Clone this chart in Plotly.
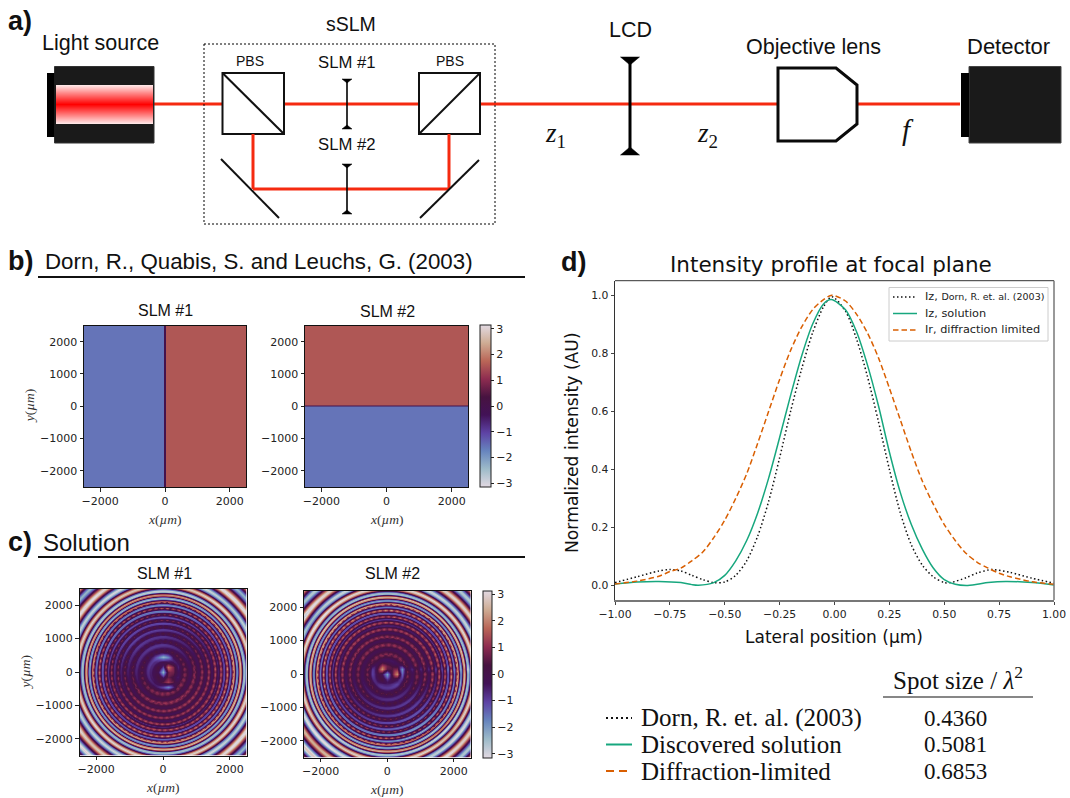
import numpy as np
import plotly.graph_objects as go

W, H = 1070, 798
PI = 3.141592653589793

# ---------- values ----------
x_dorn = [-1.0,-0.9,-0.8,-0.75,-0.7,-0.65,-0.6,-0.55,-0.5,-0.45,-0.4,-0.35,-0.3,-0.25,-0.2,-0.15,-0.1,-0.05,-0.012,0.05,0.1,0.15,0.2,0.25,0.3,0.35,0.4,0.45,0.5,0.53,0.6,0.65,0.7,0.72,0.8,0.9,1.0]
y_dorn = [0.01,0.03,0.05,0.055,0.05,0.035,0.02,0.01,0.012,0.035,0.085,0.17,0.29,0.44,0.60,0.745,0.87,0.96,0.995,0.945,0.85,0.72,0.565,0.40,0.25,0.14,0.07,0.03,0.01,0.01,0.027,0.043,0.053,0.055,0.045,0.025,0.008]
x_sol = [-1.0,-0.9,-0.8,-0.7,-0.65,-0.62,-0.55,-0.5,-0.45,-0.4,-0.35,-0.3,-0.25,-0.2,-0.15,-0.1,-0.05,-0.015,0.05,0.1,0.15,0.2,0.25,0.3,0.35,0.4,0.45,0.5,0.55,0.6,0.65,0.7,0.78,0.9,1.0]
y_sol = [0.005,0.012,0.014,0.01,0.003,0.001,0.01,0.035,0.085,0.155,0.25,0.37,0.51,0.655,0.79,0.90,0.97,0.985,0.95,0.875,0.76,0.62,0.46,0.32,0.21,0.125,0.06,0.02,0.004,0.0,0.004,0.01,0.014,0.01,0.002]
x_lim = [-1.0,-0.9,-0.8,-0.75,-0.7,-0.65,-0.6,-0.55,-0.5,-0.45,-0.4,-0.35,-0.3,-0.25,-0.2,-0.15,-0.1,-0.05,-0.012,0.05,0.1,0.15,0.2,0.25,0.3,0.35,0.4,0.45,0.5,0.55,0.6,0.65,0.7,0.75,0.8,0.9,1.0]
y_lim = [0.005,0.015,0.032,0.048,0.06,0.085,0.115,0.165,0.225,0.30,0.385,0.49,0.60,0.71,0.81,0.89,0.95,0.985,1.0,0.98,0.935,0.87,0.785,0.68,0.57,0.46,0.36,0.28,0.21,0.155,0.11,0.08,0.06,0.042,0.03,0.013,0.004]

legend_names = ["Iz, <span style='font-size:9.5px'>Dorn, R. et. al. (2003)</span>", "Iz, solution", "Ir, diffraction limited"]
table_names = ["Dorn, R. et. al. (2003)", "Discovered solution", "Diffraction-limited"]
table_values = ["0.4360", "0.5081", "0.6853"]

# Panel b phase levels (left/below, boundary, right/above)
b_levels = [-1.57, -0.05, 1.57]
b_edges = [-2500, -20, 20, 2500]
ph_ticks = [-3, -2, -1, 0, 1, 2, 3]
xy_ticks = [-2000, -1000, 0, 1000, 2000]

# Panel c phase maps are APPROXIMATIONS of the reference image: a hand-read radial ring
# profile (r in 40 um steps), a coarse 7x7 tint, a 9x9 centre patch and a bead texture
# along the rings, all eyeballed; they do not reproduce the original pixel values.
ring_c1 = [.1,.1,.2,.3,.4,.4,.2,0,-.2,-.4,-.4,-.6,-.5,-.2,.1,.5,.8,.6,.2,-.1,-.3,-.2,.4,.9,.6,.1,-.2,-.2,.5,1.0,.4,-.2,-.4,.4,1.1,.5,-.4,-.5,.7,1.3,.2,-.8,0,1.5,.8,-1.0,-1.2,.8,1.9,.3,-1.6,-.8,1.7,2.2,-.2,-2.2,-1.3,1.8,2.6,.5,-2.3,-2.5,-1,1,2.5,3,2,.3,-1.5,-2.6,-3,-2.2,-1,.3,1.5,2.5,3,2.5,1.5,.5,-.6,-1.7,-2.5,-3,-2.4,-1.5,-.5,.6,1.6,2.6]
ring_c2 = [.1,.1,.1,.2,.3,.4,.4,.2,-.1,-.3,-.5,-.5,-.2,.2,.6,.8,.5,.1,-.2,-.3,-.1,.5,.9,.6,.1,-.3,-.3,.4,1.0,.6,0,-.4,-.2,.8,1.2,.3,-.6,-.5,.9,1.4,0,-1.0,-.2,1.6,.7,-1.2,-1.3,1.0,2.0,.1,-1.8,-.6,1.9,2.2,-.5,-2.3,-1.0,2.0,2.6,.2,-2.5,-2.4,-.6,1.4,2.7,3,1.6,-.1,-1.9,-2.8,-2.9,-1.8,-.6,.7,1.9,2.8,2.9,2.1,1.1,0,-1.1,-2.1,-2.8,-2.9,-2,-1,.1,1.1,2.1,2.9]
tint_c1 = [[.8,.0,-.2,-.3,-.2,.2,.8],[.2,-.2,-.4,-.6,-.3,.1,.2],[0,-.3,-.7,-.6,-.3,.1,0],[0,-.1,-.3,0,.1,.2,0],[0,0,.2,.3,.3,.1,0],[.2,.1,.1,.1,0,0,.2],[-.6,0,0,0,0,0,.8]]
tint_c2 = [[.2,0,0,0,0,0,.3],[.6,.2,.1,0,.1,.1,0],[0,.1,.2,.2,.2,.2,0],[0,.1,0,0,.1,.2,.1],[0,-.1,-.3,-.5,-.6,-.2,0],[-.3,-.2,-.3,-.5,-.7,-.5,0],[-.8,-.2,0,0,0,.3,.3]]
patch_c1 = [[0,0,0,0,0,0,0,0,0],[0,0,-.2,-.6,-1.4,-.9,0,0,0],[0,0,0,0,.3,.3,.3,0,0],[0,0,0,.2,-1.2,1.6,1.2,0,0],[0,0,0,-.6,-2.4,.2,.8,.3,0],[0,0,0,0,-1.0,.2,.4,0,0],[0,0,0,.2,.5,1.4,.9,0,0],[0,0,0,-.2,-.6,-1.4,-.8,0,0],[0,0,0,0,0,0,0,0,0]]
patch_c2 = [[0,0,0,0,0,0,0,0,0],[0,0,0,0,0,0,0,0,0],[0,-.3,.3,.9,.2,0,.2,-.3,0],[0,-.6,.4,1.7,.2,0,1.0,-1.7,-.4],[0,-.5,0,-.5,-2.2,.2,2.0,-1.0,0],[0,-.2,0,0,-1.0,-.3,0,-.4,0],[0,0,0,-.3,-.4,-.4,-.3,0,0],[0,0,0,0,0,0,0,0,0],[0,0,0,0,0,0,0,0,0]]
bead_texture = [1.1,1.0,.85,.65,.55,.65,.85,1.0]

# ---------- colours / fonts ----------
RED = "#f52a10"
SANS = "Liberation Sans"
DJ = "DejaVu Sans"
SERIF = "Liberation Serif"
COLS = ["#111111", "#17a77e", "#d95f02"]

def px(x): return x / W
def py(y): return 1 - y / H

shapes, annos = [], []
def line(x0, y0, x1, y1, color="black", width=2, dash=None):
    shapes.append(dict(type="line", xref="paper", yref="paper", x0=px(x0), y0=py(y0), x1=px(x1), y1=py(y1),
                       line=dict(color=color, width=width, dash=dash), layer="above"))
def rect(x0, y0, x1, y1, fill=None, color=None, width=0, dash=None, layer="above"):
    shapes.append(dict(type="rect", xref="paper", yref="paper", x0=px(x0), y0=py(y0), x1=px(x1), y1=py(y1),
                       fillcolor=fill or "rgba(0,0,0,0)", line=dict(color=color or "rgba(0,0,0,0)", width=width, dash=dash), layer=layer))
def poly(points, fill=None, color="black", width=2):
    d = "M" + " L".join(f"{px(a):.5f},{py(b):.5f}" for a, b in points) + " Z"
    shapes.append(dict(type="path", xref="paper", yref="paper", path=d, fillcolor=fill or "rgba(0,0,0,0)",
                       line=dict(color=color, width=width), layer="above"))
def text(x, y, s, size=14, font=SANS, anchor="center", color="#111111", rot=0):
    annos.append(dict(xref="paper", yref="paper", x=px(x), y=py(y), text=s, showarrow=False, xanchor=anchor,
                      yanchor="middle", textangle=rot, font=dict(family=font, size=size, color=color), borderpad=0, borderwidth=0))

def slit(x, y0, y1, w, tri, lw):
    line(x, y0, x, y1, width=lw)
    poly([(x - w, y0), (x + w, y0), (x, y0 + tri)], fill="black", width=0.5)
    poly([(x - w, y1), (x + w, y1), (x, y1 - tri)], fill="black", width=0.5)

# ---------- panel a: optical diagram ----------
line(154, 104, 960, 104, color=RED, width=3)
rect(54.5, 66.5, 154, 143, fill="#1a1a1a", color="#333333", width=1)
rect(47, 73, 54.5, 137, fill="black")
for i in range(39):
    a = abs(i - 19) / 19
    g = int(255 * a * 0.9)
    rect(56, 85 + i, 153, 86 + i, fill=f"rgb(255,{g},{g})")
rect(204, 44, 495, 224, color="black", width=1, dash="2px,2px")
for x0, x1, d in [(222.5, 284, 1), (419, 480, -1)]:
    rect(x0, 73, x1, 134, fill="white", color="#111111", width=2)
    line(x0, 73 if d > 0 else 134, x1, 134 if d > 0 else 73, color="#111111", width=2)
line(253, 134, 253, 189, color=RED, width=3)
line(449, 134, 449, 189, color=RED, width=3)
line(253, 189, 449, 189, color=RED, width=3)
line(221, 159, 279, 218, color="#111111", width=2)
line(479, 160, 420, 218, color="#111111", width=2)
slit(347, 79, 129, 5, 4, 1.6)
slit(347, 164, 214, 5, 4, 1.6)
slit(630, 57, 155, 9.5, 8, 3)
poly([(778, 68), (836, 68), (857, 85), (857, 124), (836, 141), (778, 141)], fill="white", color="#0a0a0a", width=3)
rect(969, 66.5, 1061, 143, fill="#1a1a1a", color="#444444", width=1)
rect(961, 73, 969, 137, fill="black")

text(8, 21, "<b>a)</b>", 27, anchor="left")
text(100, 43, "Light source", 21.5)
text(351, 24, "sSLM", 19.5)
text(250, 61, "PBS", 14)
text(450, 61, "PBS", 14)
text(347, 62, "SLM #1", 16.7)
text(347, 145, "SLM #2", 16.7)
text(630, 30, "LCD", 21.5)
text(813, 47, "Objective lens", 21.5)
text(1008, 46, "Detector", 22)
text(555, 135, "<i>z</i><sub>1</sub>", 27, SERIF)
text(707, 135, "<i>z</i><sub>2</sub>", 27, SERIF)
text(908, 130, "<i>f</i>", 29, SERIF)

# ---------- section headers ----------
text(8, 261, "<b>b)</b>", 27, anchor="left")
text(45, 261, "Dorn, R., Quabis, S. and Leuchs, G. (2003)", 22.3, anchor="left")
line(38, 277, 525, 277, color="#111111", width=2)
text(8, 542, "<b>c)</b>", 27, anchor="left")
text(43, 542, "Solution", 24, anchor="left")
line(38, 557, 525, 557, color="#111111", width=2)
text(561, 262, "<b>d)</b>", 27, anchor="left")

# ---------- axes ----------
fig = go.Figure()
layout = {}
def add_axes(idx, x0, y0, x1, y1):
    common = dict(ticks="outside", ticklen=3.5, tickwidth=1, tickcolor="#222222", showline=True, linecolor="#111111",
                  linewidth=1, mirror=True, showgrid=False, zeroline=False, tickfont=dict(family=DJ, size=11, color="#222222"),
                  range=[-2500, 2500], tickvals=xy_ticks, automargin=False)
    layout[f"xaxis{idx}"] = dict(common, domain=[px(x0), px(x1)], anchor=f"y{idx}", tickvals=[-2000, 0, 2000])
    layout[f"yaxis{idx}"] = dict(common, domain=[py(y1), py(y0)], anchor=f"x{idx}")

def axis_labels(x0, y0, x1, y1, ylab):
    text((x0 + x1) / 2, y1 + 32, "<i>x</i>(<i>µm</i>)", 13.5, SERIF, color="#333333")
    if ylab:
        text(x0 - 55, (y0 + y1) / 2, "<i>y</i>(<i>µm</i>)", 13.5, SERIF, color="#333333", rot=-90)

def cbar(x0, y0, x1, y1):
    return dict(x=px(x0), xanchor="left", xpad=0, ypad=0, y=py(y1), yanchor="bottom", lenmode="fraction", len=(y1 - y0) / H,
                thickness=x1 - x0, tickvals=ph_ticks, ticks="outside", ticklen=3, tickcolor="#222222",
                outlinecolor="#222222", outlinewidth=1, tickfont=dict(family=DJ, size=11, color="#222222"))

P_b1 = (84, 325.5, 246, 487)
P_b2 = (305, 325.5, 468, 487)
P_c1 = (79.5, 588.5, 246.5, 755.5)
P_c2 = (304, 590.5, 470.5, 757.5)
add_axes(1, *P_b1); add_axes(2, *P_b2); add_axes(3, *P_c1); add_axes(4, *P_c2)
for p, yl in [(P_b1, True), (P_b2, False), (P_c1, True), (P_c2, False)]:
    axis_labels(*p, yl)
text(165, 310, "SLM #1", 16); text(387, 311, "SLM #2", 16)
text(164, 573, "SLM #1", 16); text(392, 573, "SLM #2", 16)

def hm(ax, z, x, y, bar=None):
    fig.add_trace(go.Heatmap(z=z, x=x, y=y, xaxis=f"x{ax}", yaxis=f"y{ax}", colorscale="Twilight", zmin=-PI, zmax=PI,
                             showscale=bar is not None, colorbar=bar, hoverinfo="skip", zsmooth=False))

hm(1, [b_levels], b_edges, [-2500, 2500])
hm(2, [[b_levels[0]], [b_levels[1]], [b_levels[2]]], [-2500, 2500], b_edges, cbar(480, 325.5, 491, 487))

def bilinear(m, xs, ys, xmin, xmax):
    m = np.array(m, float)[::-1]
    n = m.shape[0]
    fx = np.clip((xs - xmin) / (xmax - xmin) * (n - 1), 0, n - 1 - 1e-9)
    fy = np.clip((ys - xmin) / (xmax - xmin) * (n - 1), 0, n - 1 - 1e-9)
    i, j = fy.astype(int), fx.astype(int)
    a, b = fy - i, fx - j
    return (m[i, j] * (1 - a) * (1 - b) + m[i + 1, j] * a * (1 - b) + m[i, j + 1] * (1 - a) * b + m[i + 1, j + 1] * a * b)

grid = np.linspace(-2485, 2485, 167)
X, Y = np.meshgrid(grid, grid)
R = np.hypot(X, Y)
TH = np.arctan2(Y, X)
def phase_map(ring, tint, patch):
    base = np.interp(R, np.arange(len(ring)) * 40.0, ring)
    # bead texture along each ring, bead spacing about 170 um of arc
    n_beads = np.maximum(np.round(2 * PI * np.round(R / 170)), 1)
    idx = (((TH + PI) / (2 * PI) * n_beads) % 1.0 * len(bead_texture)).astype(int)
    beads = np.array(bead_texture)[idx]
    inner = (R > 500) & (R < 2100)
    base = np.where(inner & (base > 0), base * beads, base)
    v = base + bilinear(tint, X, Y, -2500, 2500) + bilinear(patch, X, Y, -600, 600)
    return ((v + PI) % (2 * PI)) - PI

hm(3, phase_map(ring_c1, tint_c1, patch_c1), grid, grid)
hm(4, phase_map(ring_c2, tint_c2, patch_c2), grid, grid, cbar(482.5, 590.5, 491, 757.5))

# ---------- panel d ----------
D = (615, 280.7, 1054, 600)
layout["xaxis5"] = dict(domain=[px(D[0]), px(D[2])], anchor="y5", range=[-1, 1], tickvals=[-1, -.75, -.5, -.25, 0, .25, .5, .75, 1],
                        tickformat=".2f", ticks="outside", ticklen=3.5, tickcolor="#444444", showgrid=False, zeroline=False, showline=True,
                        linecolor="#777777", linewidth=1.5, tickfont=dict(family=DJ, size=10.8, color="#222222"))
layout["yaxis5"] = dict(domain=[py(D[3]), py(D[1])], anchor="x5", range=[-0.05, 1.05], tickvals=[0, .2, .4, .6, .8, 1],
                        tickformat=".1f", ticks="outside", ticklen=3.5, tickcolor="#444444", showgrid=False, zeroline=False, showline=True,
                        linecolor="#333333", linewidth=1, tickfont=dict(family=DJ, size=10.8, color="#222222"))
line(D[0], D[1], D[2], D[1], color="#333333", width=1)
line(D[2], D[1], D[2], D[3], color="#777777", width=1.5)

styles = [dict(color=COLS[0], width=1.5, dash="1.5px,2.5px"), dict(color=COLS[1], width=1.5), dict(color=COLS[2], width=1.5, dash="5.5px,3px")]
for xs, ys, st, nm in zip([x_dorn, x_sol, x_lim], [y_dorn, y_sol, y_lim], styles, table_names):
    fig.add_trace(go.Scatter(x=xs, y=ys, xaxis="x5", yaxis="y5", mode="lines", line=dict(shape="spline", smoothing=0.8, **st), name=nm))

# legend box of panel d (drawn by hand so that its 16.5 px row pitch matches)
rect(889, 287.5, 1048, 341, fill="rgba(255,255,255,0.9)", color="#cccccc", width=1)
for yy, nm, st in zip([297, 313.5, 330], legend_names, styles):
    line(893, yy, 917, yy, color=st["color"], width=st["width"], dash=st.get("dash"))
    text(925, yy, nm, 11.3, DJ, anchor="left", color="#222222")

text(831, 264, "Intensity profile at focal plane", 21.5, DJ)
text(834, 637, "Lateral position (µm)", 17, DJ)
text(572, 443, "Normalized intensity (AU)", 17.2, DJ, rot=-90)

# ---------- table under panel d ----------
text(958, 678, "Spot size&nbsp;/&nbsp;<i>λ</i><sup>2</sup>", 25, SERIF)
line(883, 697, 1033, 697, color="#111111", width=1.2)
row_y = [718, 744.5, 771]
dash_tbl = ["2px,3px", None, "8px,5px"]
for yy, nm, val, col, ds in zip(row_y, table_names, table_values, COLS, dash_tbl):
    text(641, yy, nm, 25, SERIF, anchor="left")
    text(955, yy, val, 23, SERIF)
    line(606, yy, 632, yy, color=col, width=2, dash=ds)

fig.update_layout(width=W, height=H, margin=dict(l=0, r=0, t=0, b=0, autoexpand=False), paper_bgcolor="white", plot_bgcolor="white",
                  shapes=shapes, annotations=annos, showlegend=False, **layout)
fig.write_html("out.html", config=dict(displayModeBar=False), post_script="document.body.style.margin='0';document.body.style.overflow='hidden';")
